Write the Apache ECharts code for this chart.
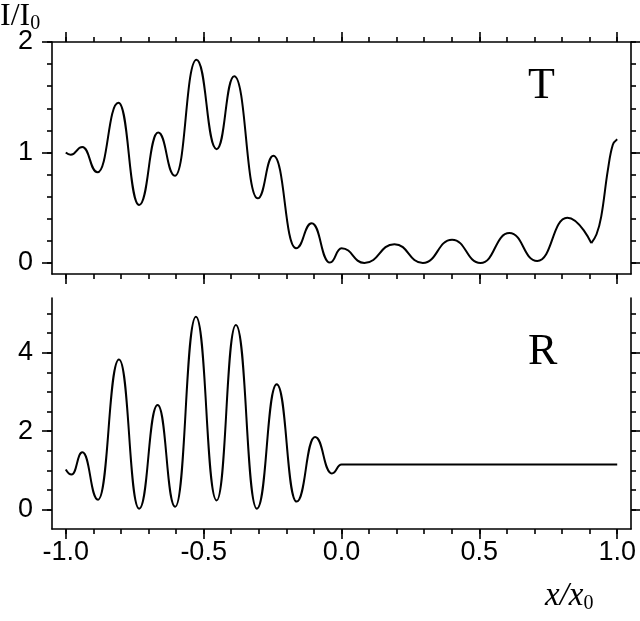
<!DOCTYPE html>
<html>
<head>
<meta charset="utf-8">
<script src="https://cdn.jsdelivr.net/npm/echarts@6/dist/echarts.min.js"></script>
<style>
html,body{margin:0;padding:0;background:#fff;}
#c{width:640px;height:621px;}
</style>
</head>
<body>
<div id="c"></div>
<script>
// Transmission T(x): turning points
const tX = [-1.0, -0.982, -0.94, -0.885, -0.809, -0.734, -0.665, -0.604, -0.526, -0.453, -0.389, -0.304, -0.247, -0.165, -0.108, -0.042, 0.0, 0.083, 0.192, 0.295, 0.401, 0.504, 0.609, 0.71, 0.819, 0.906];
const tY = [1.0, 0.98, 1.05, 0.82, 1.45, 0.525, 1.18, 0.79, 1.84, 1.03, 1.69, 0.585, 0.97, 0.133, 0.36, 0.003, 0.133, 0.0, 0.17, 0.0, 0.21, 0.0, 0.27, 0.018, 0.41, 0.18];
// steep rise of T at the right edge
const tTailX = [0.906, 0.925, 0.942, 0.966, 0.984, 1.0];
const tTailY = [0.18, 0.26, 0.42, 0.84, 1.07, 1.12];
// Reflection R(x): turning points
const rX = [-1.0, -0.979, -0.94, -0.883, -0.807, -0.734, -0.667, -0.603, -0.528, -0.453, -0.383, -0.307, -0.235, -0.163, -0.096, -0.035, 0.0, 1.0];
const rY = [1.02, 0.89, 1.46, 0.25, 3.83, 0.02, 2.67, 0.07, 4.92, 0.23, 4.71, 0.02, 3.2, 0.2, 1.85, 0.92, 1.145, 1.145];
// ticks
const xMajor = [-1.0, -0.5, 0.0, 0.5, 1.0];
const xMinor = [-1.0,-0.9,-0.8,-0.7,-0.6,-0.5,-0.4,-0.3,-0.2,-0.1,0,0.1,0.2,0.3,0.4,0.5,0.6,0.7,0.8,0.9,1.0];
const xLabels = ['-1.0','-0.5','0.0','0.5','1.0'];
const tMajor = [0, 1, 2];
const tMinor = [0,0.2,0.4,0.6,0.8,1.0,1.2,1.4,1.6,1.8,2.0];
const rMajor = [0, 2, 4];
const rMinor = [0,0.5,1,1.5,2,2.5,3,3.5,4,4.5,5];

const LW = 1.6;
const lineStyle = {color:'#000', width: LW};
const font = "'Liberation Sans', Arial, sans-serif";
const serif = "'Liberation Serif', 'Times New Roman', serif";

function xa(grid, pos, ticks, len, showLine, labels) {
  return {
    type:'value', gridIndex:grid, position:pos, min:-1.05, max:1.05,
    splitLine:{show:false},
    axisLine:{show:showLine, onZero:false, lineStyle},
    axisTick:{show:true, inside:false, length:len, customValues:ticks, lineStyle},
    axisLabel: labels ? {show:true, customValues:xMajor, color:'#000', fontSize:27, fontFamily:font, margin:10,
        formatter:(v)=>xLabels[xMajor.findIndex(m=>Math.abs(m-v)<1e-6)] ?? ''} : {show:false}
  };
}
function ya(grid, pos, min, max, ticks, len, showLine, labels) {
  return {
    type:'value', gridIndex:grid, position:pos, min, max,
    splitLine:{show:false},
    axisLine:{show:showLine, onZero:false, lineStyle},
    axisTick:{show:true, inside:false, length:len, customValues:ticks, lineStyle},
    axisLabel: labels ? {show:true, customValues:labels, color:'#000', fontSize:27, fontFamily:font, margin:19} : {show:false}
  };
}

const chart = echarts.init(document.getElementById('c'), null, {renderer:'canvas'});
chart.setOption({
  animation:false,
  backgroundColor:'#fff',
  grid:[
    {left:52, top:42, width:579, height:232},
    {left:52, top:298, width:579, height:231}
  ],
  xAxis:[
    xa(0,'bottom',xMajor,10,true,false),
    xa(0,'bottom',xMinor,5,false,false),
    xa(0,'top',xMajor,10,true,false),
    xa(0,'top',xMinor,5,false,false),
    xa(1,'bottom',xMajor,10,true,true),
    xa(1,'bottom',xMinor,5,false,false)
  ],
  yAxis:[
    ya(0,'left',-0.1,2,tMajor,10,true,tMajor),
    ya(0,'left',-0.1,2,tMinor,5,false,null),
    ya(0,'right',-0.1,2,tMajor,10,true,null),
    ya(0,'right',-0.1,2,tMinor,5,false,null),
    ya(1,'left',-0.5,5.4,rMajor,10,true,rMajor),
    ya(1,'left',-0.5,5.4,rMinor,5,false,null),
    ya(1,'right',-0.5,5.4,rMajor,10,true,null),
    ya(1,'right',-0.5,5.4,rMinor,5,false,null)
  ],
  series:[
    {name:'T', type:'line', xAxisIndex:0, yAxisIndex:0, data:tX.map((x,i)=>[x,tY[i]]),
     smooth:0.5, smoothMonotone:'x', symbol:'none', lineStyle:{color:'#000', width:2}},
    {name:'T tail', type:'line', xAxisIndex:0, yAxisIndex:0, data:tTailX.map((x,i)=>[x,tTailY[i]]),
     smooth:0.4, symbol:'none', lineStyle:{color:'#000', width:2}},
    {name:'R', type:'line', xAxisIndex:4, yAxisIndex:4, data:rX.map((x,i)=>[x,rY[i]]),
     smooth:0.5, smoothMonotone:'x', symbol:'none', lineStyle:{color:'#000', width:2}}
  ],
  graphic:[
    {type:'text', left:0, top:1, style:{
      text:'{a|I/I}{s|0}', rich:{
        a:{fontFamily:serif, fontSize:32, fill:'#000'},
        s:{fontFamily:serif, fontSize:20, fill:'#000', padding:[14,0,0,0]}
      }}},
    {type:'text', left:528, top:64, style:{text:'T', fontFamily:serif, fontSize:44, fill:'#000'}},
    {type:'text', left:528, top:330, style:{text:'R', fontFamily:serif, fontSize:44, fill:'#000'}},
    {type:'text', left:545, top:580, style:{
      text:'{a|x/x}{s|0}', rich:{
        a:{fontFamily:serif, fontStyle:'italic', fontSize:33, fill:'#000'},
        s:{fontFamily:serif, fontSize:20, fill:'#000', padding:[14,0,0,0]}
      }}}
  ]
});
</script>
</body>
</html>
